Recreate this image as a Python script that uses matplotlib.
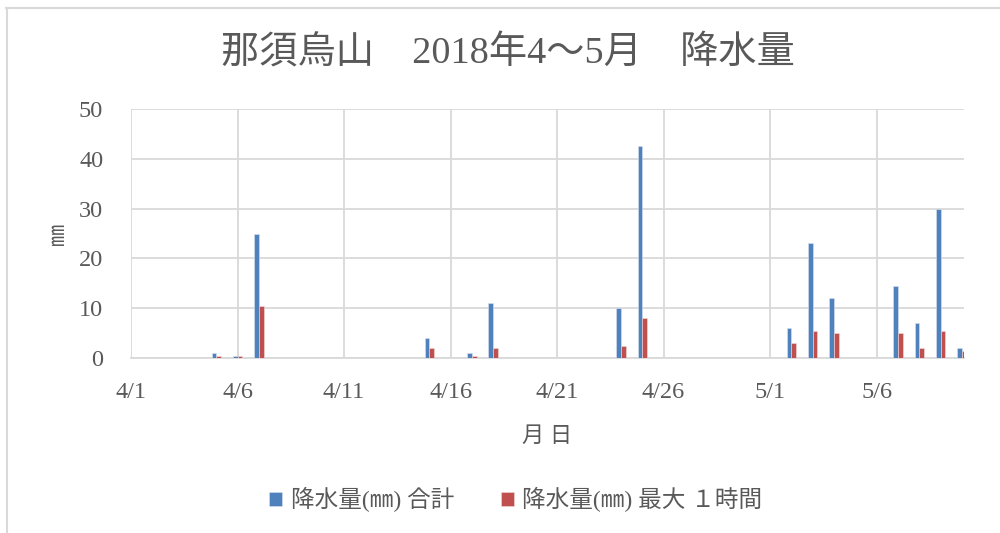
import datetime as dt
import matplotlib.pyplot as plt
from matplotlib.lines import Line2D

# data: 4/1 - 5/10 2018 (days with rain only, others are 0)
rain_days = ['4/5', '4/6', '4/7', '4/15', '4/17', '4/18', '4/24', '4/25',
             '5/2', '5/3', '5/4', '5/7', '5/8', '5/9', '5/10']
total_mm = [1.0, 0.5, 25.0, 4.0, 1.0, 11.0, 10.0, 42.5,
            6.0, 23.0, 12.0, 14.5, 7.0, 30.0, 2.0]
max_1h_mm = [0.5, 0.5, 10.5, 2.0, 0.5, 2.0, 2.5, 8.0,
             3.0, 5.5, 5.0, 5.0, 2.0, 5.5, 1.5]
tick_labels = ['4/1', '4/6', '4/11', '4/16', '4/21', '4/26', '5/1', '5/6']

start = dt.date(2018, 4, 1)


def day_no(s):
    m, d = s.split('/')
    return (dt.date(2018, int(m), int(d)) - start).days


x = [day_no(s) for s in rain_days]
ticks = [day_no(s) for s in tick_labels]

serif_jp = ['Liberation Serif', 'Noto Sans CJK JP']
gray = '#595959'
grid = '#d9d9d9'

fig = plt.figure(figsize=(10, 5.33), dpi=100)
ax = fig.add_axes([131 / 1000, 1 - 358 / 533, (964 - 131) / 1000, (358 - 109) / 533])

w = 0.22
ax.bar([v - w / 2 for v in x], total_mm, width=w, color='#4f81bd',
       edgecolor='#dbe4f0', linewidth=0.4, label='降水量(㎜) 合計', zorder=3)
ax.bar([v + w / 2 for v in x], max_1h_mm, width=w, color='#c0504d',
       edgecolor='#f0dcdc', linewidth=0.4, label='降水量(㎜) 最大 １時間', zorder=3)

ax.set_xlim(0, 39.1)
ax.set_ylim(0, 50)
ax.set_yticks(range(0, 51, 10))
ax.set_xticks(ticks)
ax.set_xticklabels(tick_labels)
ax.grid(True, color=grid, linewidth=1.3, zorder=0)
ax.set_axisbelow(True)
for s in ['left', 'top', 'right']:
    ax.spines[s].set_visible(False)
ax.spines['bottom'].set_color(grid)
ax.spines['bottom'].set_linewidth(1.3)
ax.tick_params(length=0, colors=gray, labelsize=17.5, pad=17)
ax.tick_params(axis='y', pad=20)
for lab in ax.get_xticklabels() + ax.get_yticklabels():
    lab.set_family(serif_jp)

ax.set_xlabel('月 日', family=serif_jp, fontsize=16, color=gray, labelpad=18)
ax.set_ylabel('㎜', family=serif_jp, fontsize=16, color=gray, labelpad=7)

fig.text(0.508, 1 - 53 / 533, '那須烏山　2018年4～5月　降水量', family=serif_jp,
         fontsize=27.5, color=gray, ha='center', va='center')

leg = fig.legend(loc='center', bbox_to_anchor=(0.516, 1 - 500 / 533), ncol=2,
                 frameon=False, handlelength=0.55, handleheight=0.55,
                 handletextpad=0.35, columnspacing=2.0,
                 prop={'family': serif_jp, 'size': 17})
for t in leg.get_texts():
    t.set_color(gray)

# chart border
fig.add_artist(Line2D([0.006, 1.0], [1 - 7.5 / 533, 1 - 7.5 / 533], color=grid, lw=1.5))
fig.add_artist(Line2D([0.0065, 0.0065], [0, 1 - 7.5 / 533], color=grid, lw=1.5))

plt.savefig('out.png')
